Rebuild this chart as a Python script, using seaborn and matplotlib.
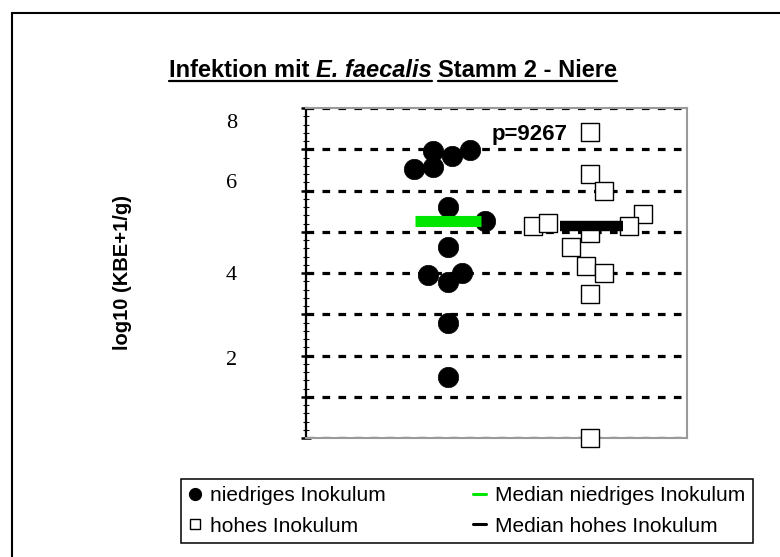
import numpy as np
import pandas as pd
import matplotlib
matplotlib.use("Agg")
import matplotlib.pyplot as plt
import seaborn as sns
from matplotlib.lines import Line2D
from matplotlib.patches import Rectangle
from matplotlib.ticker import MultipleLocator
from matplotlib.transforms import ScaledTranslation

sns.set_style("white")
plt.rcParams["font.family"] = ["Liberation Sans", "DejaVu Sans"]
plt.rcParams["text.color"] = "black"
plt.rcParams["axes.labelcolor"] = "black"
plt.rcParams["ytick.color"] = "black"
plt.rcParams["xtick.color"] = "black"

# ---- data -------------------------------------------------------------
groups = ["niedriges Inokulum", "hohes Inokulum"]
low_values = [6.95, 6.97, 6.83, 6.51, 6.56, 5.61, 5.27, 4.64, 3.94, 4.01, 3.79, 2.79, 1.48]
high_values = [7.41, 6.39, 6.00, 5.13, 5.22, 5.42, 5.13, 4.96, 4.64, 4.16, 4.01, 3.50, 0.00]
y_tick_values = [8, 6, 4, 2]
p_label = "p=9267"
legend_labels = ["niedriges Inokulum", "hohes Inokulum",
                 "Median niedriges Inokulum", "Median hohes Inokulum"]

# horizontal spread of overlapping points (x units)
low_shift = [-0.106, 0.155, 0.028, -0.239, -0.106, 0.0, 0.261, 0.0, -0.141, 0.099, 0.0, 0.0, 0.0]
high_shift = [0.0, 0.0, 0.099, -0.401, -0.296, 0.373, 0.275, 0.0, -0.134, -0.028, 0.099, 0.0, 0.0]

W, H = 780, 557
fig = plt.figure(figsize=(W / 100, H / 100), dpi=100)
ax = fig.add_axes([306 / W, 1 - 438 / H, 381 / W, 330 / H])

centers = [1.0, 2.0]
df = pd.DataFrame({
    "Gruppe": [groups[0]] * len(low_values) + [groups[1]] * len(high_values),
    "log10": low_values + high_values,
    "x": [centers[0] + s for s in low_shift] + [centers[1] + s for s in high_shift],
})

# dotted grid lines at every integer
for v in range(0, 9):
    ax.axhline(v, color="black", lw=2.3, ls=(0, (2.4, 2.6)), zorder=1)

sns.scatterplot(data=df[df["Gruppe"] == groups[0]], x="x", y="log10", marker="o",
                s=215, color="black", edgecolor="black", linewidth=0.5,
                legend=False, ax=ax, zorder=3, clip_on=False)
sns.scatterplot(data=df[df["Gruppe"] == groups[1]], x="x", y="log10", marker="s",
                s=165, color="white", edgecolor="black", linewidth=1.0,
                legend=False, ax=ax, zorder=3, clip_on=False)

med_low = np.median(low_values)
med_high = np.median(high_values)
ax.plot([centers[0] - 0.235, centers[0] + 0.235], [med_low, med_low],
        color="#00e600", lw=8, solid_capstyle="butt", zorder=4)
ax.plot([centers[1] - 0.21, centers[1] + 0.23], [med_high, med_high],
        color="black", lw=7.5, solid_capstyle="butt", zorder=4)

ax.set_xlim(0, 2.683)
ax.set_ylim(0, 8)
ax.set_xlabel("")
ax.set_ylabel("")
ax.set_xticks([])
ax.set_yticks(range(0, 9))
ax.set_yticklabels([str(v) if v in y_tick_values else "" for v in range(0, 9)])
ax.yaxis.set_minor_locator(MultipleLocator(0.2))
ax.tick_params(axis="y", which="major", direction="inout", length=7.5, width=1.8,
               color="black", labelcolor="black", labelsize=16, pad=46, left=True,
               labelfontfamily="Liberation Serif")
ax.tick_params(axis="y", which="minor", direction="inout", length=4, width=0.8,
               color="black", left=True)

# tick label nudges (pixels, positive = up)
nudge = {8: -13, 6: 10, 4: 0, 2: -2.5}
for val, tick in zip(range(0, 9), ax.yaxis.get_major_ticks()):
    dy = nudge.get(val, 0)
    lab = tick.label1
    lab.set_transform(lab.get_transform() + ScaledTranslation(0, dy / 100, fig.dpi_scale_trans))

for side in ["top", "right", "bottom"]:
    ax.spines[side].set_color("#9a9a9a")
    ax.spines[side].set_linewidth(1.5)
ax.spines["left"].set_color("black")
ax.spines["left"].set_linewidth(1.6)
ax.set_facecolor("white")

ax.text(0.488, 0.903, p_label, transform=ax.transAxes, fontsize=16,
        fontweight="bold", va="baseline", ha="left", color="black")

fig.text(122 / W, 1 - 272 / H, "log10 (KBE+1/g)", rotation=90, ha="center",
         va="center", fontsize=14.5, fontweight="bold", color="black")

# ---- title with italic species name and underline ---------------------
renderer = fig.canvas.get_renderer()
title_fs = 17


def text_width(s, style="normal"):
    t = fig.text(0, 0, s, fontsize=title_fs, fontweight="bold", style=style)
    w = t.get_window_extent(renderer).width
    t.remove()
    return w


space = text_width("n n") - text_width("nn")
parts = [("Infektion mit", "normal"), ("E. faecalis", "italic"), ("Stamm 2 - Niere", "normal")]
widths = [text_width(s, st) for s, st in parts]
total = sum(widths) + 2 * space
x = 393 - total / 2
base_y = 77
starts = []
for (s, st), w in zip(parts, widths):
    fig.text(x / W, 1 - base_y / H, s, fontsize=title_fs, fontweight="bold",
             style=st, ha="left", va="baseline", color="black")
    starts.append(x)
    x += w + space
ul_y = 1 - (base_y + 3.5) / H
fig.add_artist(Line2D([starts[0] / W, (starts[1] + widths[1]) / W], [ul_y, ul_y],
                      color="black", lw=1.6, transform=fig.transFigure))
fig.add_artist(Line2D([starts[2] / W, (starts[2] + widths[2]) / W], [ul_y, ul_y],
                      color="black", lw=1.6, transform=fig.transFigure))

# ---- legend -----------------------------------------------------------
handles = [
    Line2D([], [], marker="o", ls="none", color="black", markersize=8.5),
    Line2D([], [], marker="s", ls="none", mfc="white", mec="black", markersize=7.5, mew=1),
    Line2D([], [], color="#00e600", lw=2.2),
    Line2D([], [], color="black", lw=2.2),
]
leg = fig.legend(handles, legend_labels, loc="upper left",
                 bbox_to_anchor=(181 / W, 1 - 479 / H), ncol=2, frameon=True,
                 fancybox=False, edgecolor="black", framealpha=1, fontsize=15,
                 handlelength=0.6, handletextpad=0.45, columnspacing=4.2,
                 borderpad=0.35, labelspacing=0.55, borderaxespad=0)
leg.get_frame().set_linewidth(1.1)
for t in leg.get_texts():
    t.set_color("black")

# outer chart frame
fig.add_artist(Rectangle((11.5 / W, -0.2), 1.2, 1.2 - 12.5 / H, fill=False,
                         edgecolor="black", lw=1.5, transform=fig.transFigure))

fig.savefig("out.png", dpi=100, facecolor="white")
